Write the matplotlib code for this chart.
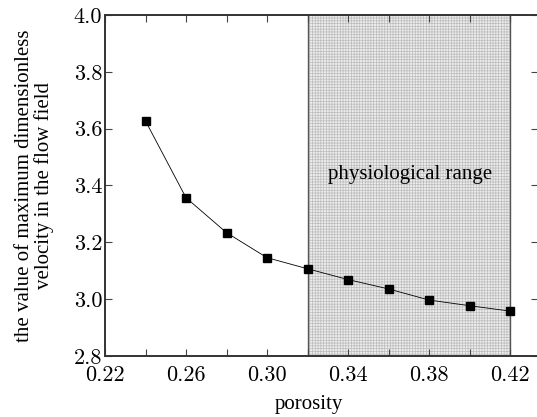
import matplotlib
matplotlib.use("Agg")
import matplotlib.pyplot as plt
from matplotlib.ticker import FixedLocator, FormatStrFormatter, MultipleLocator

# data
porosity = [0.24, 0.26, 0.28, 0.30, 0.32, 0.34, 0.36, 0.38, 0.40, 0.42]
max_velocity = [3.627, 3.357, 3.234, 3.146, 3.107, 3.069, 3.036, 2.997, 2.977, 2.958]
physio_range = (0.32, 0.42)
range_label = "physiological range"
x_major = [0.22, 0.26, 0.30, 0.34, 0.38, 0.42]

plt.rcParams["font.family"] = ["Liberation Serif", "DejaVu Serif"]
plt.rcParams["hatch.linewidth"] = 0.5
plt.rcParams["hatch.color"] = "#bcbcbc"

fig = plt.figure(figsize=(5.37, 4.17), dpi=100)
ax = fig.add_axes([105 / 537, 1 - 356 / 417, 433 / 537, 341 / 417])

ax.axvspan(*physio_range, facecolor="#ececec", hatch="++++++",
           linewidth=0, zorder=0)
for xv in physio_range:
    ax.axvline(xv, color="#555555", linewidth=1.0, zorder=1)

ax.plot(porosity, max_velocity, color="black", linewidth=0.6,
        marker="s", markersize=5.5, zorder=3)

ax.text(0.3705, 3.44, range_label, ha="center", va="center", fontsize=15)

ax.set_xlim(0.22, 0.4338)
ax.set_ylim(2.8, 4.0)
ax.xaxis.set_major_locator(FixedLocator(x_major))
ax.xaxis.set_minor_locator(MultipleLocator(0.02))
ax.yaxis.set_major_locator(MultipleLocator(0.2))
ax.xaxis.set_major_formatter(FormatStrFormatter("%.2f"))
ax.yaxis.set_major_formatter(FormatStrFormatter("%.1f"))
ax.tick_params(which="both", direction="in", top=True, right=True,
               length=5, width=0.8, color="#444444", labelsize=16, pad=2)
ax.tick_params(axis="x", pad=7)
for lab in ax.get_xticklabels() + ax.get_yticklabels():
    lab.set_family("cmr10")

for sp in ax.spines.values():
    sp.set_linewidth(1.4)
    sp.set_color("#333333")

ax.set_xlabel("porosity", fontsize=15)
ax.xaxis.set_label_coords(0.47, -0.115)
ax.set_ylabel("the value of maximum dimensionless\nvelocity in the flow field",
              fontsize=15, labelpad=14, linespacing=1.05)

fig.savefig("out.png", dpi=100)
